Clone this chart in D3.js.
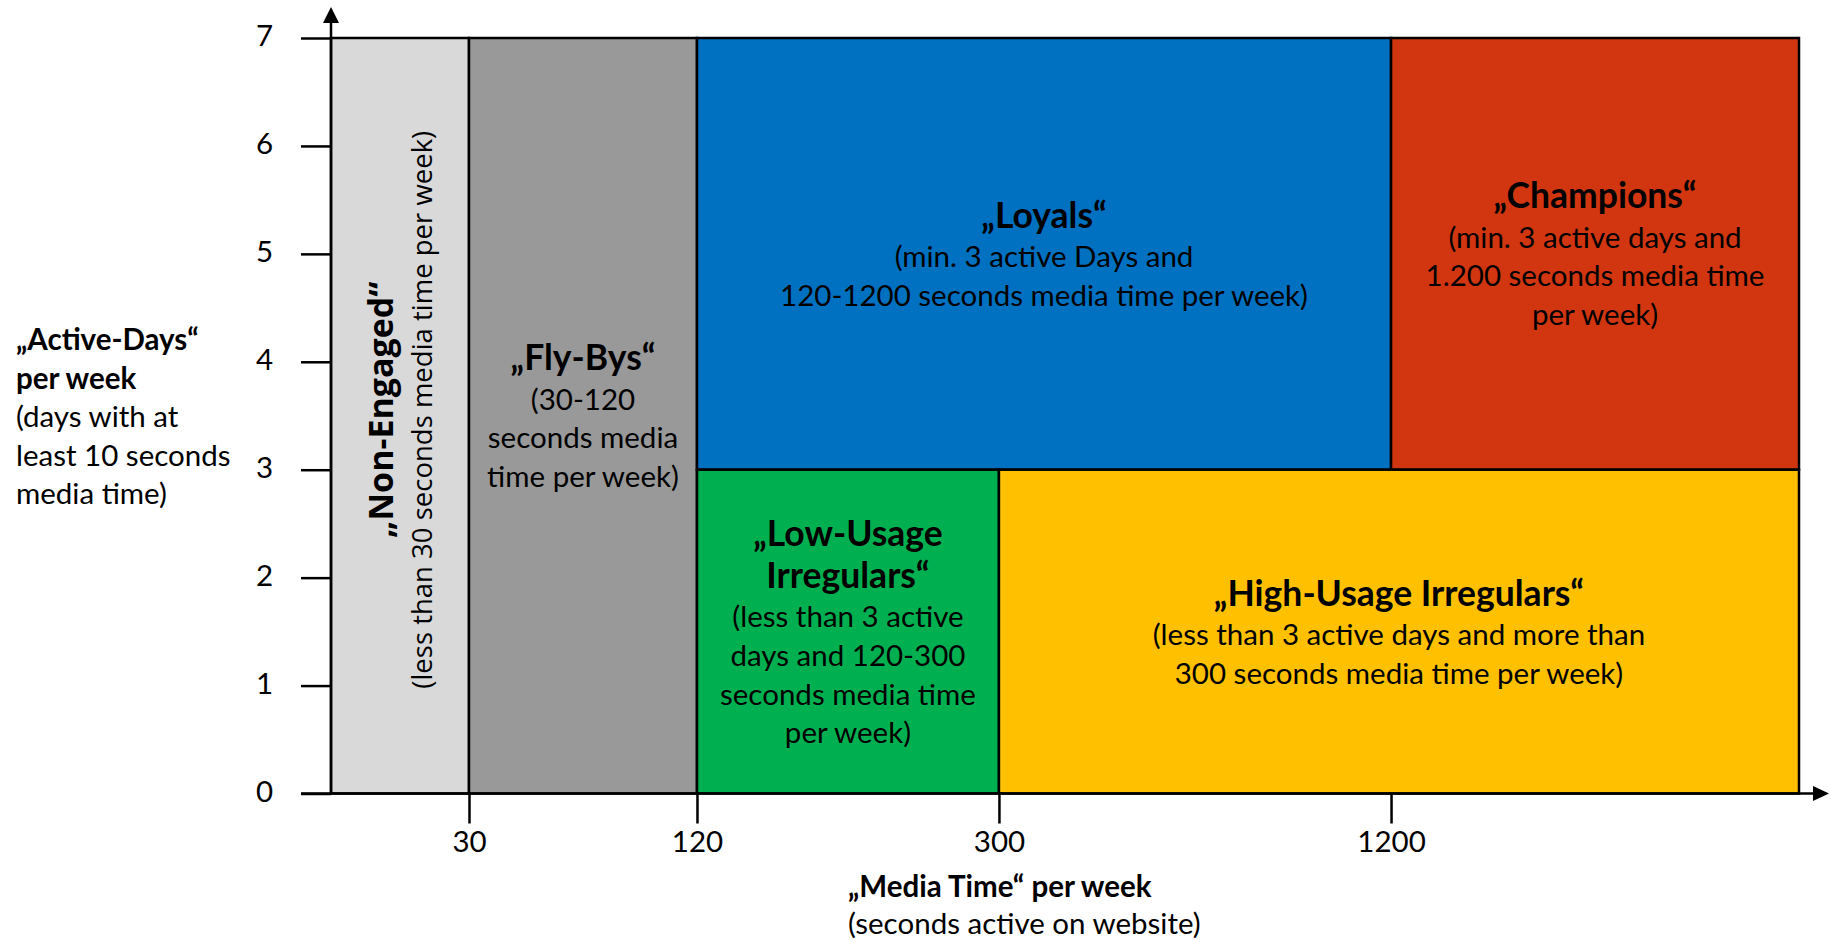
<!DOCTYPE html>
<html>
<head>
<meta charset="utf-8">
<script src="https://cdn.jsdelivr.net/npm/d3@7"></script>
<style>
  html, body { margin: 0; padding: 0; background: #fff; }
  svg { display: block; }
</style>
</head>
<body>
<svg id="chart" width="1831" height="940"></svg>
<script>
// ---- data -------------------------------------------------------------
// media time per week (seconds): axis breakpoints and scale stops
const mediaTimeTicks = [30, 120, 300, 1200];
const mediaTimeStops = [0, 30, 120, 300, 1200, 2400];
// active days per week
const activeDayTicks = [0, 1, 2, 3, 4, 5, 6, 7];

// user segments: bounds in media time and active days
const segmentNames     = ["Non-Engaged", "Fly-Bys", "Loyals", "Champions", "Low-Usage Irregulars", "High-Usage Irregulars"];
const segmentTimeFrom  = [0,   30,  120, 1200, 120, 300];
const segmentTimeTo    = [30, 120, 1200, 2400, 300, 2400];
const segmentDaysFrom  = [0,   0,   3,   3,   0,   0];
const segmentDaysTo    = [7,   7,   7,   7,   3,   3];
const segmentHeadings  = [
  ["„Non-Engaged“"],
  ["„Fly-Bys“"],
  ["„Loyals“"],
  ["„Champions“"],
  ["„Low-Usage", "Irregulars“"],
  ["„High-Usage Irregulars“"]
];
const segmentNotes = [
  ["(less than 30 seconds media time per week)"],
  ["(30-120", "seconds media", "time per week)"],
  ["(min. 3 active Days and", "120-1200 seconds media time per week)"],
  ["(min. 3 active days and", "1.200 seconds media time", "per week)"],
  ["(less than 3 active", "days and 120-300", "seconds media time", "per week)"],
  ["(less than 3 active days and more than", "300 seconds media time per week)"]
];
const segmentColors = ["#d9d9d9", "#999999", "#0070c0", "#d23610", "#00b050", "#ffc000"];

// axis titles
const yTitleBold  = ["„Active-Days“", "per week"];
const yTitleNotes = ["(days with at", "least 10 seconds", "media time)"];
const xTitleBold  = ["„Media Time“ per week"];
const xTitleNotes = ["(seconds active on website)"];

// ---- layout -------------------------------------------------------------
const plot = { left: 331, right: 1799, top: 38, bottom: 793.5 };
const W = plot.right - plot.left;
// relative position of each media-time stop along the axis (schematic spacing)
const stopFractions = [0, 0.094, 0.2493, 0.455, 0.7221, 1];

const FONT = "Lato, 'Open Sans', sans-serif";
const headingSize = 35.5, noteSize = 29.5, tickSize = 29.5;
const headingLH = 42, noteLH = 38.7;
const lineW = 2.5;

const x = d3.scaleLinear()
  .domain(mediaTimeStops)
  .range(stopFractions.map(f => plot.left + f * W));
const y = d3.scaleLinear().domain([0, 7]).range([plot.bottom, plot.top]);

const svg = d3.select("#chart");

const segments = segmentNames.map((name, i) => ({
  name,
  t0: segmentTimeFrom[i], t1: segmentTimeTo[i],
  d0: segmentDaysFrom[i], d1: segmentDaysTo[i],
  headings: segmentHeadings[i], notes: segmentNotes[i],
  color: segmentColors[i]
}));

// ---- segment areas ------------------------------------------------------
svg.append("g").selectAll("rect")
  .data(segments)
  .join("rect")
  .attr("x", d => x(d.t0))
  .attr("y", d => y(d.d1))
  .attr("width", d => x(d.t1) - x(d.t0))
  .attr("height", d => y(d.d0) - y(d.d1))
  .attr("fill", d => d.color)
  .attr("stroke", "#000")
  .attr("stroke-width", lineW);

// ---- axes ----------------------------------------------------------------
const xAxis = svg.append("g")
  .attr("transform", `translate(0,${plot.bottom})`)
  .call(d3.axisBottom(x).tickValues(mediaTimeTicks).tickSize(30).tickPadding(8).tickFormat(d3.format("d")));
const yAxis = svg.append("g")
  .attr("transform", `translate(${plot.left},0)`)
  .call(d3.axisLeft(y).tickValues(activeDayTicks).tickSize(30).tickPadding(28).tickFormat(d3.format("d")));

[xAxis, yAxis].forEach(g => {
  g.select(".domain").remove();
  g.selectAll(".tick line").attr("stroke", "#000").attr("stroke-width", lineW);
  g.selectAll(".tick text")
    .attr("fill", "#000")
    .style("font-family", FONT)
    .style("font-size", tickSize + "px");
});
yAxis.selectAll(".tick text").attr("dy", "0.26em");

// axis lines with arrow heads
const axisLines = svg.append("g");
axisLines.append("line")
  .attr("x1", plot.left - 30).attr("x2", plot.right + 18)
  .attr("y1", plot.bottom).attr("y2", plot.bottom)
  .attr("stroke", "#000").attr("stroke-width", lineW);
axisLines.append("path")
  .attr("d", `M${plot.right + 30},${plot.bottom} L${plot.right + 14},${plot.bottom - 7.5} L${plot.right + 14},${plot.bottom + 7.5} Z`)
  .attr("fill", "#000");
axisLines.append("line")
  .attr("x1", plot.left).attr("x2", plot.left)
  .attr("y1", plot.bottom).attr("y2", plot.top - 20)
  .attr("stroke", "#000").attr("stroke-width", lineW);
axisLines.append("path")
  .attr("d", `M${plot.left},${plot.top - 31} L${plot.left - 8},${plot.top - 15} L${plot.left + 8},${plot.top - 15} Z`)
  .attr("fill", "#000");

// ---- segment labels ------------------------------------------------------
const labels = svg.append("g").style("font-family", FONT).attr("fill", "#000");

segments.forEach((s, i) => {
  const cx = (x(s.t0) + x(s.t1)) / 2;
  const cy = (y(s.d0) + y(s.d1)) / 2;
  if (i === 0) {
    // narrow column: label runs vertically
    const g = labels.append("g")
      .attr("transform", `translate(${cx},${cy - 6}) rotate(-90)`)
      .style("font-family", "'Open Sans', sans-serif");
    g.append("text")
      .attr("text-anchor", "middle")
      .attr("y", -7)
      .style("font-weight", 700)
      .style("font-size", "34px")
      .text(s.headings[0]);
    g.append("text")
      .attr("text-anchor", "middle")
      .attr("y", 32)
      .style("font-size", "27.5px")
      .text(s.notes[0]);
    return;
  }
  const lines = s.headings.map(t => ({ t, bold: true, lh: headingLH }))
    .concat(s.notes.map(t => ({ t, bold: false, lh: noteLH })));
  const H = d3.sum(lines, l => l.lh);
  let top = cy - H / 2;
  lines.forEach(l => {
    labels.append("text")
      .attr("x", cx)
      .attr("y", top + 0.8 * l.lh)
      .attr("text-anchor", "middle")
      .style("font-weight", l.bold ? 700 : 400)
      .style("font-size", (l.bold ? headingSize : noteSize) + "px")
      .text(l.t);
    top += l.lh;
  });
});

// ---- axis titles ---------------------------------------------------------
const titles = svg.append("g").style("font-family", FONT).style("font-size", noteSize + "px").attr("fill", "#000");
const yTitleLines = yTitleBold.map(t => ({ t, bold: true })).concat(yTitleNotes.map(t => ({ t, bold: false })));
titles.selectAll("text.ytitle")
  .data(yTitleLines)
  .join("text")
  .attr("class", "ytitle")
  .attr("x", 16)
  .attr("y", (d, i) => y(3.5) - 65.5 + i * 38.5)
  .style("font-weight", d => d.bold ? 700 : 400)
  .text(d => d.t);

const xTitleLines = xTitleBold.map(t => ({ t, bold: true })).concat(xTitleNotes.map(t => ({ t, bold: false })));
titles.selectAll("text.xtitle")
  .data(xTitleLines)
  .join("text")
  .attr("class", "xtitle")
  .attr("x", x(300) - 151)
  .attr("y", (d, i) => plot.bottom + 103.5 + i * 37)
  .style("font-weight", d => d.bold ? 700 : 400)
  .text(d => d.t);
</script>
</body>
</html>
